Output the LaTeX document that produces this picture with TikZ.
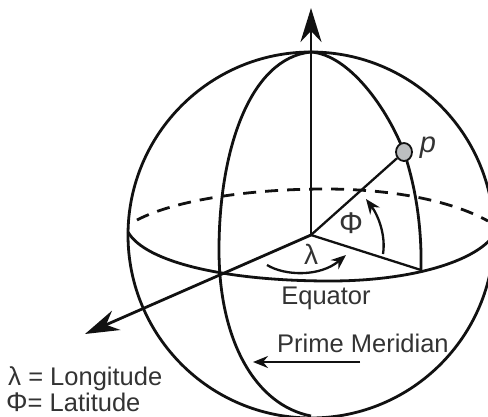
\documentclass[tikz,border=0pt]{standalone}
\usepackage{fontspec}
\setmainfont{Liberation Sans}
\usetikzlibrary{arrows.meta,shapes.geometric}
\definecolor{ink}{HTML}{111111}
\definecolor{txt}{HTML}{333333}
\definecolor{pt}{HTML}{BCBEC0}
\tikzset{
  thick line/.style={line width=2.8pt,draw=ink},
  mid line/.style={line width=2.3pt,draw=ink},
  big tip/.style={-{Stealth[length=34pt,width=21pt,inset=11pt]}},
  small tip/.style={-{Stealth[length=15pt,width=12pt,inset=5pt]}},
  lab/.style={text=txt,font=\fontsize{25.5}{30}\selectfont,inner sep=0pt},
}
\newcommand{\bigphi}{{\fontsize{30}{30}\selectfont Φ}}
\newcommand{\biglam}{{\fontsize{28}{30}\selectfont λ}}
\newcommand{\midphi}{{\fontsize{27}{30}\selectfont Φ}}
\begin{document}
\begin{tikzpicture}[x=1pt,y=-1pt]
\useasboundingbox (0,0) rectangle (488,416);
\clip (0,0) rectangle (488,416);
\coordinate (O) at (311,235);
\coordinate (N) at (311,8);
\coordinate (S) at (85,334);
\coordinate (E) at (421,270);
% sphere, equator
\draw[thick line] (O) circle (183);
\draw[thick line] (128,232) .. controls (145,262) and (225,281) .. (330,281) .. controls (410,281) and (475,262) .. (494,235);
\draw[thick line,dash pattern=on 13pt off 9pt] (137,220) .. controls (175,200) and (250,189) .. (325,189) .. controls (390,189) and (450,200) .. (488,221);
% meridians
\draw[thick line] (311,52) .. controls (250,58) and (219,150) .. (219,250) .. controls (219,340) and (255,405) .. (311,416);
\draw[thick line] (311,52) .. controls (350,55) and (388,110) .. (404,152) .. controls (415,185) and (422,225) .. (421,270);
% axes
\draw[thick line,big tip] (O) -- (N);
\draw[thick line,big tip] (O) -- (S);
\draw[mid line] (O) -- (E);
\node[ellipse,fill=pt,draw=ink,line width=1.8pt,inner sep=0pt,minimum width=16pt,minimum height=18pt] (P) at (404,152) {};
\draw[mid line] (O) -- (P);
% angle arrows
\coordinate (a1) at (383,254);
\coordinate (a2) at (366,199);
\draw[mid line,small tip] (a1) .. controls (386,235) and (378,215) .. (a2);
\coordinate (b1) at (267,265);
\coordinate (b2) at (346,255);
\draw[mid line,small tip] (b1) .. controls (285,276) and (320,277) .. (b2);
\coordinate (c1) at (360,362);
\coordinate (c2) at (253,362);
\draw[mid line,small tip] (c1) -- (c2);
% labels
\node[lab] (pl) at (428,148) {\fontsize{29}{30}\selectfont\itshape p};
\node[lab] (phi) at (351,223) {\bigphi};
\node[lab] (lam) at (311,254) {\biglam};
\node[lab] (eq) at (326,298) {Equator};
\node[lab,anchor=west] (pm) at (277,343) {Prime Meridian};
\node[lab,anchor=base west] (l1) at (8,385) {{\fontsize{26}{30}\selectfont λ} = Longitude};
\node[lab,anchor=base west] (l2) at (6,411) {\midphi= Latitude};
\end{tikzpicture}
\end{document}
